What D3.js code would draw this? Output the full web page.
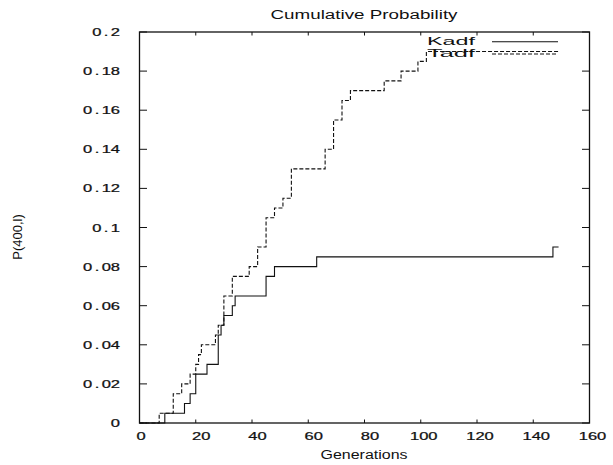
<!DOCTYPE html>
<html>
<head>
<meta charset="utf-8">
<script src="https://cdn.jsdelivr.net/npm/d3@7"></script>
<style>
  html, body { margin: 0; padding: 0; background: #fff; }
  svg { display: block; font-family: "Liberation Sans", Arial, Helvetica, sans-serif; }
</style>
</head>
<body>
<svg id="chart" width="613" height="465"></svg>
<script>
// Step data: [generation, cumulative probability]
const kadfGen  = [0, 9, 16, 18, 20, 24, 28, 29, 30, 33, 34, 45, 48, 63, 147, 149];
const kadfProb = [0, 0.005, 0.01, 0.015, 0.025, 0.03, 0.045, 0.05, 0.055, 0.06, 0.065, 0.075, 0.08, 0.085, 0.09, 0.09];

const tadfGen  = [0, 7, 12, 15, 18, 20, 21, 22, 27, 28, 30, 33, 39, 42, 45, 48, 51, 54, 66, 69, 72, 75, 87, 93, 99, 102, 149];
const tadfProb = [0, 0.005, 0.015, 0.02, 0.025, 0.03, 0.035, 0.04, 0.045, 0.05, 0.065, 0.075, 0.08, 0.09, 0.105, 0.11, 0.115, 0.13, 0.14, 0.155, 0.165, 0.17, 0.175, 0.18, 0.185, 0.19, 0.19];

const xTicks = [0, 20, 40, 60, 80, 100, 120, 140, 160];
const yTicks = [0, 0.02, 0.04, 0.06, 0.08, 0.1, 0.12, 0.14, 0.16, 0.18, 0.2];

const seriesNames = ["Kadf", "Tadf"];

const svg = d3.select("#chart");
const plotL = 139.5, plotR = 589.5, plotT = 32, plotB = 423;

const x = d3.scaleLinear().domain([0, 160]).range([plotL, plotR]);
const y = d3.scaleLinear().domain([0, 0.2]).range([plotB, plotT]);

const ink = "#111";
const tickScaleX = 1.5;

// Frame
svg.append("rect")
  .attr("x", plotL).attr("y", plotT)
  .attr("width", plotR - plotL).attr("height", plotB - plotT)
  .attr("fill", "none").attr("stroke", ink).attr("stroke-width", 1.3);

// Ticks (inward, mirrored on opposite sides)
const tickG = svg.append("g").attr("stroke", ink).attr("stroke-width", 1);
xTicks.forEach(v => {
  tickG.append("line").attr("x1", x(v)).attr("x2", x(v)).attr("y1", plotB).attr("y2", plotB - 3.5);
  tickG.append("line").attr("x1", x(v)).attr("x2", x(v)).attr("y1", plotT).attr("y2", plotT + 3.5);
});
yTicks.forEach(v => {
  tickG.append("line").attr("x1", plotL).attr("x2", plotL + 7.5).attr("y1", y(v)).attr("y2", y(v));
  tickG.append("line").attr("x1", plotR).attr("x2", plotR - 7.5).attr("y1", y(v)).attr("y2", y(v));
});

// X tick labels (centring nudged by label length)
const xNudge = { 1: 1.5, 2: 5.5, 3: 3 };
xTicks.forEach(v => {
  const s = String(v);
  const cx = x(v) + xNudge[s.length];
  svg.append("text")
    .attr("transform", `translate(${cx},439.5) scale(${tickScaleX},1)`)
    .attr("text-anchor", "middle")
    .attr("font-size", 11)
    .attr("fill", ink)
    .attr("stroke", ink).attr("stroke-width", 0.25)
    .text(s);
});

// Y tick labels, with the decimal point given a little extra room
const yFmt = d => d === 0 ? "0" : String(+d.toFixed(2));
yTicks.forEach(v => {
  const s = yFmt(v);
  const t = svg.append("text")
    .attr("transform", `translate(120,${y(v) + 4}) scale(${tickScaleX},1)`)
    .attr("text-anchor", "end")
    .attr("font-size", 11)
    .attr("fill", ink)
    .attr("stroke", ink).attr("stroke-width", 0.25);
  const dot = s.indexOf(".");
  if (dot < 0) {
    t.text(s);
  } else {
    t.append("tspan").text(s.slice(0, dot));
    t.append("tspan").attr("dx", 1.6).text(".");
    t.append("tspan").attr("dx", 1.6).text(s.slice(dot + 1));
  }
});

// Title and axis labels
svg.append("text")
  .attr("x", 364).attr("y", 19)
  .attr("text-anchor", "middle")
  .attr("font-size", 12.5)
  .attr("textLength", 187).attr("lengthAdjust", "spacingAndGlyphs")
  .attr("fill", ink)
  .text("Cumulative Probability");

svg.append("text")
  .attr("x", 364).attr("y", 458.5)
  .attr("text-anchor", "middle")
  .attr("font-size", 12)
  .attr("textLength", 87).attr("lengthAdjust", "spacingAndGlyphs")
  .attr("fill", ink)
  .text("Generations");

svg.append("text")
  .attr("transform", "translate(22,237) rotate(-90)")
  .attr("text-anchor", "middle")
  .attr("font-size", 13)
  .attr("fill", ink)
  .text("P(400,l)");

// Series
const line = d3.line()
  .x(d => x(d[0]))
  .y(d => y(d[1]))
  .curve(d3.curveStepAfter);

const kadf = kadfGen.map((g, i) => [g, kadfProb[i]]);
const tadf = tadfGen.map((g, i) => [g, tadfProb[i]]);

const styles = [
  { data: kadf, dash: null },
  { data: tadf, dash: "4,2" }
];

styles.forEach(s => {
  svg.append("path")
    .datum(s.data)
    .attr("d", line)
    .attr("fill", "none")
    .attr("stroke", ink)
    .attr("stroke-width", 1.1)
    .attr("stroke-dasharray", s.dash);
});

// Legend
const legendRows = [
  { name: seriesNames[0], dash: null, ly: 41.7, ty: 45 },
  { name: seriesNames[1], dash: "4,2", ly: 54, ty: 57 }
];
legendRows.forEach(r => {
  svg.append("text")
    .attr("x", 475).attr("y", r.ty)
    .attr("text-anchor", "end")
    .attr("font-size", 11)
    .attr("textLength", 48).attr("lengthAdjust", "spacingAndGlyphs")
    .attr("fill", ink)
    .text(r.name);
  svg.append("line")
    .attr("x1", 492).attr("x2", 558)
    .attr("y1", r.ly).attr("y2", r.ly)
    .attr("stroke", ink).attr("stroke-width", 1.1)
    .attr("stroke-dasharray", r.dash);
});
</script>
</body>
</html>
